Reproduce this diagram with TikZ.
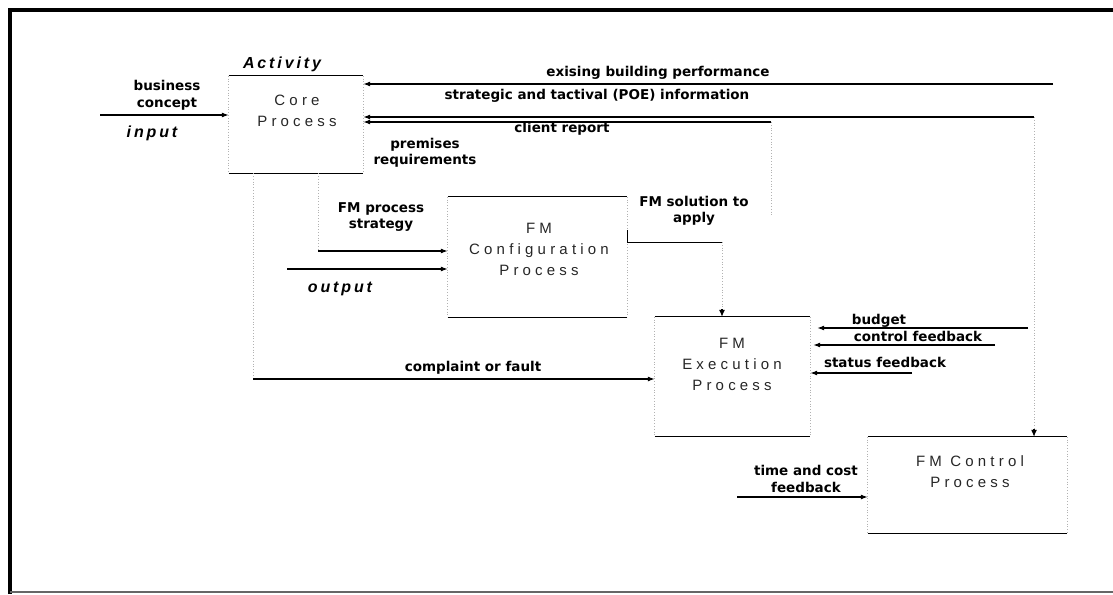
\documentclass[tikz,border=0pt]{standalone}
\usepackage{fontspec}
\usetikzlibrary{arrows.meta,calc}
\newfontfamily\lblfont{DejaVu Sans}
\newfontfamily\itlfont[LetterSpace=18]{Liberation Sans}
\newfontfamily\boxfont[LetterSpace=28]{Liberation Sans}
\tikzset{
  lbl/.style={font={\lblfont\bfseries\fontsize{13.5}{16.5}\selectfont}, align=center, inner sep=0pt},
  itl/.style={font={\itlfont\bfseries\itshape\fontsize{16}{18}\selectfont}, inner sep=0pt},
  boxtxt/.style={font={\boxfont\fontsize{15}{21}\selectfont}, text=black!85, align=center, inner sep=0pt},
  proc/.style={rectangle, inner sep=0pt, draw=none},
  edge/.style={line width=1.1pt, -{Latex[length=7pt,width=5pt]}},
  tip/.style={line width=1.1pt, -{Latex[length=7pt,width=6pt]}},
  faint/.style={draw=black!30, dotted, line width=0.8pt},
  rule/.style={line width=1pt}
}
\begin{document}
\begin{tikzpicture}[x=1pt,y=-1pt]
\useasboundingbox (0,0) rectangle (1113,594);
% frame
\draw[line width=4pt] (10,594) -- (10,10) -- (1113,10);
\draw[line width=1.5pt, black!60] (10,592) -- (1113,592);

% process boxes
\node[proc, minimum width=134pt, minimum height=97pt] (core) at (296,124.5) {};
\node[proc, minimum width=179pt, minimum height=120pt] (config) at (537.5,257) {};
\node[proc, minimum width=155pt, minimum height=119pt] (exec) at (732.5,376.5) {};
\node[proc, minimum width=199pt, minimum height=96pt] (ctrl) at (967.5,485) {};

\foreach \b in {core,config,exec,ctrl}{
  \draw[rule] (\b.north west) -- (\b.north east);
  \draw[rule] (\b.south west) -- (\b.south east);
  \draw[faint] (\b.north west) -- (\b.south west);
  \draw[faint] (\b.north east) -- (\b.south east);
}

\node[boxtxt] (coretxt) at (297,111) {Core\\Process};
\node[boxtxt] (configtxt) at (539,249) {FM\\Configuration\\Process};
\node[boxtxt] (exectxt) at (732,364) {FM\\Execution\\Process};
\node[boxtxt] (ctrltxt) at (970,472) {FM Control\\Process};

\node[itl] (activity) at (282,64) {Activity};
\node[itl] (input) at (152,133) {input};
\node[itl] (output) at (340,289) {output};

% input
\coordinate (inS) at (100,115);
\draw[edge] (inS) -- (inS -| core.west);
\node[lbl] (bc) at (167,95.5) {business\\concept};

% top feedback lines
\coordinate (exS) at (1053,84);
\draw[edge] (exS) -- (exS -| core.east);
\node[lbl] (ebp) at (658,73) {exising building performance};

\coordinate (poeS) at (1034,117);
\draw[edge] (poeS) -- (poeS -| core.east);
\node[lbl] (poe) at (597,96) {strategic and tactival (POE) information};

\coordinate (clS) at (771,122);
\draw[edge] (clS) -- (clS -| core.east);
\node[lbl] (cr) at (562,129) {client report};
\draw[faint] (clS) -- ++(0,95);

\node[lbl] (pr) at (425,153) {premises\\requirements};

% FM process strategy
\coordinate (fpsS) at (318,251);
\draw[faint] (fpsS |- core.south) -- (fpsS);
\draw[edge] (fpsS) -- (fpsS -| config.west);
\node[lbl] (fps) at (381,217) {FM process\\strategy};

% output
\coordinate (outS) at (287,269);
\draw[edge] (outS) -- (outS -| config.west);

% FM solution to apply
\coordinate (solA) at (627,230);
\coordinate (solB) at (627,242);
\coordinate (solC) at (722,242);
\coordinate (solD) at (722,309);
\draw[rule] (solA) -- (solB) -- (solC);
\draw[faint] (solC) -- (solD);
\draw[tip] (solD) -- (solD |- exec.north);
\node[lbl] (fsa) at (694,211) {FM solution to\\apply};

% complaint or fault
\coordinate (cfS) at (253,379);
\draw[faint] (cfS |- core.south) -- (cfS);
\draw[edge] (cfS) -- (cfS -| exec.west);
\node[lbl] (cf) at (473,368) {complaint or fault};

% feedback into execution
\coordinate (bgS) at (1028,328);
\draw[edge] (bgS) -- ($(bgS -| exec.east)+(7,0)$);
\node[lbl] (bg) at (879,321) {budget};
\coordinate (cfbS) at (995,345);
\draw[edge] (cfbS) -- ($(cfbS -| exec.east)+(3,0)$);
\node[lbl] (cfb) at (918,336) {control feedback};
\coordinate (sfS) at (912,373);
\draw[edge] (sfS) -- (sfS -| exec.east);
\node[lbl] (sf) at (885,362) {status feedback};

% right vertical into control
\coordinate (rvE) at (1034,429);
\draw[faint] (poeS) -- (rvE);
\draw[tip] (rvE) -- (rvE |- ctrl.north);

% time and cost feedback
\coordinate (tcS) at (737,497);
\draw[edge] (tcS) -- (tcS -| ctrl.west);
\node[lbl] (tc) at (806,479) {time and cost\\feedback};
\end{tikzpicture}
\end{document}
